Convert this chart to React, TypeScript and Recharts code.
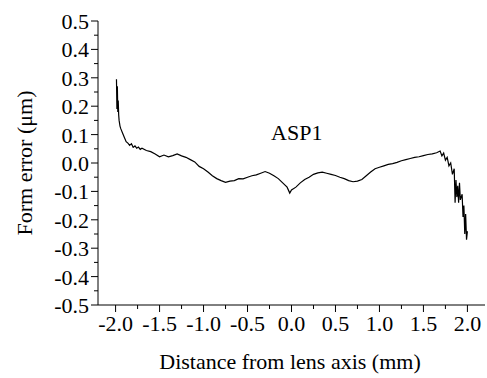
import { LineChart, Line, XAxis, YAxis, ReferenceDot } from "recharts";

const xValues = [
  -1.99, -1.985, -1.98, -1.975, -1.97, -1.965, -1.96, -1.95, -1.94, -1.92, -1.9, -1.88, -1.86,
  -1.84, -1.82, -1.8, -1.78, -1.76, -1.74, -1.72, -1.7, -1.65, -1.6, -1.55, -1.5, -1.45, -1.4,
  -1.35, -1.3, -1.25, -1.2, -1.15, -1.1, -1.05, -1.0, -0.95, -0.9, -0.85, -0.8, -0.75, -0.7,
  -0.65, -0.6, -0.55, -0.5, -0.45, -0.4, -0.35, -0.3, -0.25, -0.2, -0.15, -0.1, -0.05, -0.02,
  0.0, 0.05, 0.1, 0.15, 0.2, 0.25, 0.3, 0.35, 0.4, 0.45, 0.5, 0.55, 0.6, 0.65, 0.7, 0.75,
  0.8, 0.85, 0.9, 0.95, 1.0, 1.05, 1.1, 1.15, 1.2, 1.25, 1.3, 1.35, 1.4, 1.45, 1.5, 1.55,
  1.6, 1.65, 1.69, 1.71, 1.73, 1.75, 1.77, 1.79, 1.81, 1.83, 1.85, 1.86, 1.87, 1.88, 1.89,
  1.9, 1.91, 1.92, 1.94, 1.95, 1.96, 1.97, 1.98, 1.99, 2.0,
];

const formError = [
  0.295, 0.19, 0.27, 0.18, 0.22, 0.17, 0.15, 0.13, 0.12, 0.105, 0.09, 0.075, 0.07,
  0.062, 0.068, 0.055, 0.06, 0.052, 0.056, 0.048, 0.052, 0.044, 0.04, 0.032, 0.022, 0.028, 0.022,
  0.026, 0.032, 0.025, 0.02, 0.012, 0.004, -0.012, -0.02, -0.032, -0.045, -0.055, -0.062, -0.068, -0.064,
  -0.062, -0.055, -0.056, -0.05, -0.045, -0.042, -0.036, -0.03, -0.036, -0.045, -0.055, -0.07, -0.085, -0.106,
  -0.095, -0.085, -0.07, -0.058, -0.05, -0.04, -0.035, -0.032, -0.036, -0.04, -0.044, -0.05, -0.055, -0.062, -0.066, -0.064,
  -0.058, -0.045, -0.032, -0.02, -0.015, -0.01, -0.005, -0.002, 0.002, 0.008, 0.012, 0.016, 0.02, 0.022, 0.026, 0.03,
  0.032, 0.036, 0.042, 0.025, 0.035, 0.01, 0.02, -0.01, 0.0, -0.04, -0.02, -0.14, -0.06, -0.12, -0.08,
  -0.14, -0.07, -0.13, -0.11, -0.19, -0.15, -0.25, -0.18, -0.27, -0.24,
];

const xMajorTicks = [-2.0, -1.5, -1.0, -0.5, 0.0, 0.5, 1.0, 1.5, 2.0];
const xMinorTicks = [-1.75, -1.25, -0.75, -0.25, 0.25, 0.75, 1.25, 1.75];
const yMajorTicks = [-0.5, -0.4, -0.3, -0.2, -0.1, 0.0, 0.1, 0.2, 0.3, 0.4, 0.5];
const yMinorTicks = [-0.45, -0.35, -0.25, -0.15, -0.05, 0.05, 0.15, 0.25, 0.35, 0.45];

const data = xValues.map((x, i) => ({ x, y: formError[i] }));
const xTicks = [...xMajorTicks, ...xMinorTicks].sort((a, b) => a - b);
const yTicks = [...yMajorTicks, ...yMinorTicks].sort((a, b) => a - b);

const font = "'Liberation Serif', 'Times New Roman', Times, 'DejaVu Serif', serif";
const isMajor = (list: number[], v: number) => list.some((t) => Math.abs(t - v) < 1e-6);

const XTick = ({ x, y, payload }: any) => {
  const major = isMajor(xMajorTicks, payload.value);
  return (
    <g>
      <line x1={x} x2={x} y1={y} y2={y + (major ? 7 : 4)} stroke="#000" />
      {major && (
        <text x={x} y={y + 26} textAnchor="middle" fill="#000" style={{ fontFamily: font, fontSize: 22 }}>
          {payload.value.toFixed(1)}
        </text>
      )}
    </g>
  );
};

const YTick = ({ x, y, payload }: any) => {
  const major = isMajor(yMajorTicks, payload.value);
  return (
    <g>
      <line x1={x - (major ? 7 : 4)} x2={x} y1={y} y2={y} stroke="#000" />
      {major && (
        <text x={x - 9} y={y + 8} textAnchor="end" fill="#000" style={{ fontFamily: font, fontSize: 22 }}>
          {payload.value.toFixed(1)}
        </text>
      )}
    </g>
  );
};

export default function App() {
  return (
    <div style={{ position: "absolute", left: 0, top: 0, fontFamily: font }}>
      <LineChart
        width={487}
        height={378}
        data={data}
        margin={{ top: 21, right: 2, bottom: 0, left: 0 }}
      >
        <XAxis
          dataKey="x"
          type="number"
          domain={[-2.2, 2.2]}
          ticks={xTicks}
          interval={0}
          tick={<XTick />}
          tickLine={false}
          tickSize={0}
          tickMargin={0}
          stroke="#000"
          height={73}
          allowDataOverflow
          label={{
            content: () => (
              <text x={290} y={369} textAnchor="middle" fill="#000" style={{ fontFamily: font, fontSize: 22 }}>
                Distance from lens axis (mm)
              </text>
            ),
          }}
        />
        <YAxis
          type="number"
          domain={[-0.5, 0.5]}
          ticks={yTicks}
          interval={0}
          tick={<YTick />}
          tickLine={false}
          tickSize={0}
          tickMargin={0}
          stroke="#000"
          width={98}
          allowDataOverflow
          label={{
            content: () => (
              <text
                x={24}
                y={163}
                transform="rotate(-90 24 163)"
                textAnchor="middle"
                dominantBaseline="central"
                fill="#000"
                style={{ fontFamily: font, fontSize: 22 }}
              >
                Form error (μm)
              </text>
            ),
          }}
        />
        <ReferenceDot
          x={0.06}
          y={0.11}
          r={0}
          label={{ value: "ASP1", position: "center", fill: "#000", style: { fontFamily: font, fontSize: 22 } }}
        />
        <Line
          type="linear"
          dataKey="y"
          stroke="#000"
          strokeWidth={1.2}
          dot={false}
          isAnimationActive={false}
        />
      </LineChart>
    </div>
  );
}
